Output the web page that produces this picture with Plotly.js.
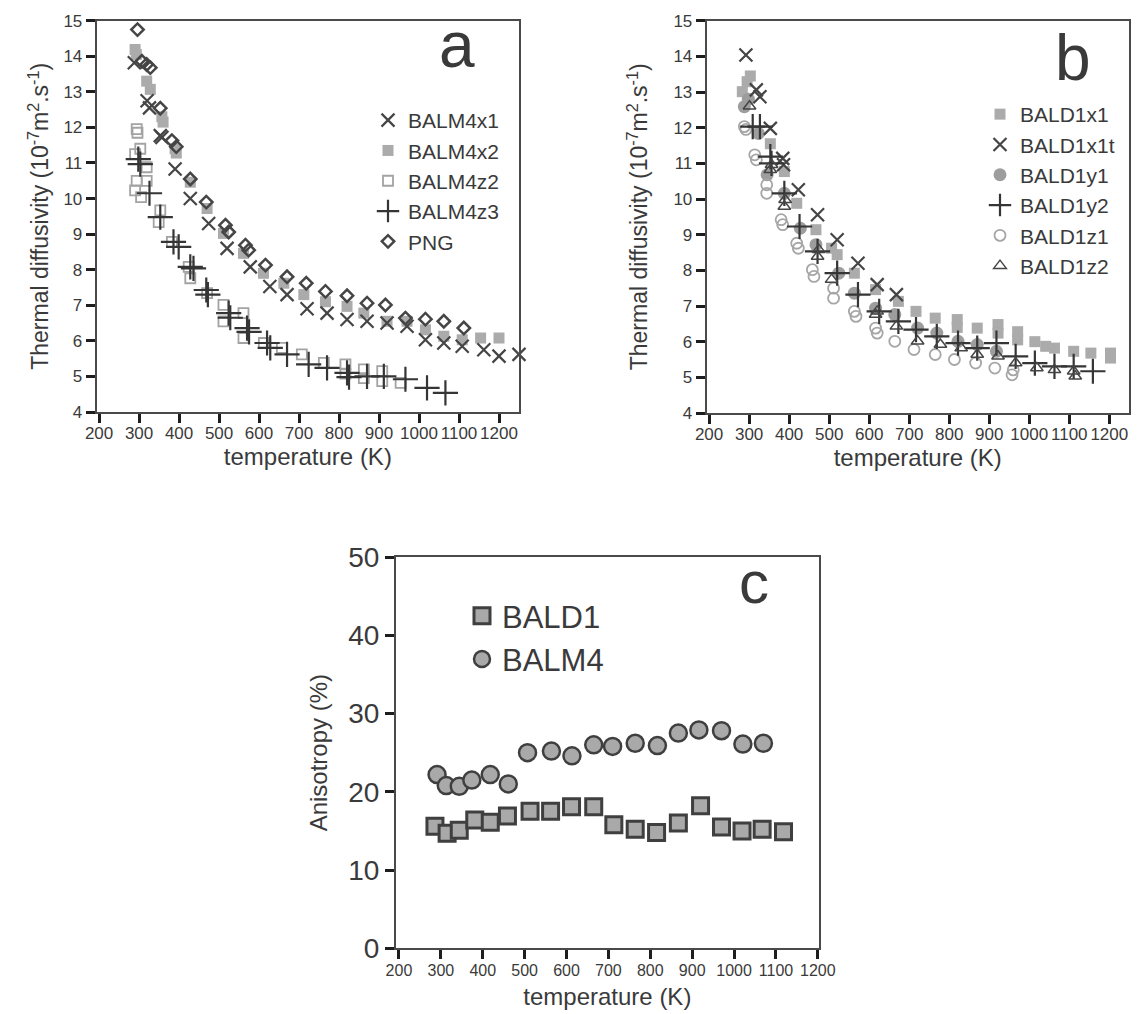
<!DOCTYPE html>
<html><head><meta charset="utf-8">
<script src="https://cdn.plot.ly/plotly-3.0.1.min.js"></script>
<style>html,body{margin:0;padding:0;background:#fff}#chart{width:1139px;height:1014px}</style>
</head><body><div id="chart"></div>
<script>
// ---------- Panel a (BALM4 + PNG) ----------
const balm4x1_T = [288, 320, 326, 353, 357, 390, 428, 474, 520, 578, 627, 670, 720, 770, 820, 870, 920, 970, 1016, 1062, 1108, 1162, 1200, 1250];
const balm4x1_D = [13.82, 12.75, 12.55, 11.77, 11.72, 10.83, 10.0, 9.3, 8.6, 8.08, 7.53, 7.3, 6.9, 6.78, 6.6, 6.55, 6.5, 6.41, 6.03, 5.94, 5.85, 5.75, 5.57, 5.62];
const balm4x2_T = [290, 293, 319, 328, 357, 360, 390, 393, 428, 470, 511, 561, 611, 662, 712, 766, 820, 862, 920, 970, 1016, 1062, 1108, 1154, 1200];
const balm4x2_D = [14.19, 14.05, 13.3, 13.07, 12.3, 12.15, 11.4, 11.28, 10.46, 9.72, 9.02, 8.46, 7.9, 7.62, 7.3, 7.1, 6.97, 6.78, 6.55, 6.55, 6.31, 6.13, 6.03, 6.08, 6.08];
const balm4z2_T = [294, 296, 303, 290, 319, 294, 319, 290, 305, 353, 349, 382, 424, 428, 470, 511, 511, 561, 561, 612, 657, 707, 762, 816, 816, 862, 862, 908, 908, 954];
const balm4z2_D = [11.95, 11.85, 11.4, 11.25, 10.88, 10.5, 10.5, 10.23, 10.04, 9.67, 9.34, 8.78, 8.08, 7.76, 7.34, 7.01, 6.55, 6.78, 6.08, 5.94, 5.8, 5.62, 5.38, 5.34, 5.08, 5.2, 4.95, 5.15, 4.87, 4.82];
const balm4z3_T = [298, 303, 326, 353, 386, 399, 428, 436, 468, 472, 524, 528, 570, 575, 620, 628, 670, 724, 770, 820, 825, 870, 912, 966, 1020, 1066];
const balm4z3_D = [11.11, 10.97, 10.15, 9.48, 8.78, 8.64, 8.08, 8.04, 7.43, 7.3, 6.78, 6.65, 6.36, 6.25, 5.94, 5.8, 5.62, 5.34, 5.24, 5.1, 4.98, 5.0, 5.0, 4.92, 4.68, 4.54];
const png_T = [296, 296, 307, 319, 328, 353, 382, 393, 428, 468, 516, 524, 566, 574, 616, 670, 718, 766, 820, 870, 916, 966, 1016, 1062, 1112];
const png_D = [15.03, 14.75, 13.86, 13.77, 13.68, 12.54, 11.63, 11.46, 10.55, 9.9, 9.25, 9.06, 8.69, 8.55, 8.13, 7.8, 7.62, 7.39, 7.27, 7.06, 7.01, 6.64, 6.61, 6.55, 6.36];

// ---------- Panel b (BALD1) ----------
const bald1x1_T = [283, 295, 303, 353, 388, 419, 467, 506, 520, 563, 616, 673, 717, 765, 820, 820, 870, 922, 922, 971, 971, 1014, 1041, 1063, 1111, 1154, 1203, 1203];
const bald1x1_D = [13.01, 13.29, 13.45, 11.55, 10.77, 9.88, 9.14, 8.62, 8.44, 7.92, 7.46, 7.13, 6.85, 6.66, 6.62, 6.4, 6.38, 6.48, 6.24, 6.28, 6.05, 6.0, 5.87, 5.82, 5.73, 5.68, 5.54, 5.68];
const bald1x1t_T = [292, 318, 327, 353, 384, 386, 423, 471, 520, 572, 620, 668];
const bald1x1t_D = [14.04, 13.06, 12.87, 11.98, 11.14, 10.96, 10.26, 9.56, 8.86, 8.2, 7.6, 7.32];
const bald1y1_T = [288, 298, 323, 345, 388, 428, 467, 524, 563, 616, 664, 721, 769, 822, 870, 918];
const bald1y1_D = [12.59, 12.8, 11.84, 10.68, 10.16, 9.18, 8.72, 7.92, 7.36, 6.94, 6.76, 6.38, 6.24, 6.01, 5.92, 5.73];
const bald1y2_T = [309, 327, 353, 356, 388, 426, 471, 520, 572, 625, 673, 717, 769, 822, 870, 918, 966, 1014, 1063, 1111, 1159];
const bald1y2_D = [12.03, 12.03, 11.19, 11.0, 10.16, 9.23, 8.53, 7.92, 7.32, 6.85, 6.57, 6.34, 6.15, 5.96, 5.82, 5.96, 5.59, 5.4, 5.31, 5.31, 5.17];
const bald1z1_T = [288, 292, 314, 318, 344, 344, 380, 384, 419, 423, 458, 462, 511, 511, 563, 567, 616, 620, 664, 712, 765, 813, 866, 914, 957, 960];
const bald1z1_D = [12.03, 11.95, 11.24, 11.1, 10.4, 10.16, 9.42, 9.28, 8.76, 8.62, 8.02, 7.83, 7.5, 7.22, 6.85, 6.71, 6.38, 6.24, 6.01, 5.78, 5.64, 5.5, 5.4, 5.26, 5.07, 5.21];
const bald1z2_T = [301, 353, 356, 388, 390, 471, 474, 506, 616, 620, 668, 721, 778, 830, 870, 922, 966, 1019, 1063, 1111, 1115];
const bald1z2_D = [12.6, 10.82, 10.96, 9.79, 9.98, 8.39, 8.58, 7.74, 6.76, 6.85, 6.43, 6.01, 5.92, 5.82, 5.64, 5.59, 5.4, 5.26, 5.21, 5.17, 5.03];

// ---------- Panel c (anisotropy) ----------
const aniso_bald1_T = [286, 315, 344, 381, 418, 459, 513, 562, 612, 665, 713, 764, 815, 867, 920, 970, 1019, 1067, 1118];
const aniso_bald1_A = [15.6, 14.7, 15.1, 16.4, 16.1, 16.9, 17.5, 17.5, 18.1, 18.1, 15.8, 15.2, 14.8, 16.0, 18.2, 15.5, 15.0, 15.2, 14.9];
const aniso_balm4_T = [291, 313, 344, 374, 418, 461, 507, 564, 613, 665, 710, 764, 817, 867, 916, 970, 1021, 1070];
const aniso_balm4_A = [22.2, 20.8, 20.7, 21.5, 22.2, 21.0, 25.0, 25.2, 24.6, 26.0, 25.8, 26.2, 25.9, 27.5, 27.9, 27.8, 26.1, 26.2];

const FONT = '"Liberation Sans", Arial, Helvetica, sans-serif';
const TXT = '#3a3a3a';
const DARK = '#454545';
const LIGHT = '#ababab';

function pt(name, x, y, xa, ya, leg, rank, symbol, size, color, lineColor, lineWidth) {
  return {
    type: 'scatter', mode: 'markers', name: name, x: x, y: y,
    xaxis: xa, yaxis: ya, legend: leg, legendrank: rank, cliponaxis: false,
    marker: { symbol: symbol, size: size, color: color, line: { color: lineColor, width: lineWidth } }
  };
}

const traces = [
  // panel a (gray first so dark markers sit on top)
  pt('BALM4x2', balm4x2_T, balm4x2_D, 'x', 'y', 'legend', 2, 'square', 11, LIGHT, LIGHT, 0),
  pt('BALM4z2', balm4z2_T, balm4z2_D, 'x', 'y', 'legend', 3, 'square-open', 10, '#a3a3a3', '#a3a3a3', 1.8),
  pt('BALM4x1', balm4x1_T, balm4x1_D, 'x', 'y', 'legend', 1, 'x-thin-open', 13, DARK, DARK, 2.2),
  pt('BALM4z3', balm4z3_T, balm4z3_D, 'x', 'y', 'legend', 4, 'cross-thin-open', 18, '#353535', '#353535', 2.2),
  pt('PNG', png_T, png_D, 'x', 'y', 'legend', 5, 'diamond-open', 9.5, DARK, DARK, 2.5),
  // panel b
  pt('BALD1x1', bald1x1_T, bald1x1_D, 'x2', 'y2', 'legend2', 1, 'square', 11, LIGHT, LIGHT, 0),
  pt('BALD1y1', bald1y1_T, bald1y1_D, 'x2', 'y2', 'legend2', 3, 'circle', 13, '#9d9d9d', '#9d9d9d', 0),
  pt('BALD1z1', bald1z1_T, bald1z1_D, 'x2', 'y2', 'legend2', 5, 'circle-open', 11, '#a6a6a6', '#a6a6a6', 1.8),
  pt('BALD1x1t', bald1x1t_T, bald1x1t_D, 'x2', 'y2', 'legend2', 2, 'x-thin-open', 13, DARK, DARK, 2.2),
  pt('BALD1y2', bald1y2_T, bald1y2_D, 'x2', 'y2', 'legend2', 4, 'cross-thin-open', 18, '#353535', '#353535', 2.2),
  pt('BALD1z2', bald1z2_T, bald1z2_D, 'x2', 'y2', 'legend2', 6, 'triangle-up-open', 11, DARK, DARK, 1.5),
  // panel c
  pt('BALD1', aniso_bald1_T, aniso_bald1_A, 'x3', 'y3', 'legend3', 1, 'square', 16, '#a9a9a9', '#3f3f3f', 3),
  pt('BALM4', aniso_balm4_T, aniso_balm4_A, 'x3', 'y3', 'legend3', 2, 'circle', 17, '#a9a9a9', '#3f3f3f', 2.5)
];

const W = 1139, H = 1014;
function xd(a, b) { return [a / W, b / W]; }
function yd(top, bottom) { return [1 - bottom / H, 1 - top / H]; }

function axisBase(domain, range, dtick, anchor, tickSize, title, titleSize, standoff, labelOff) {
  return {
    domain: domain, range: range, anchor: anchor, dtick: dtick, tick0: 0,
    ticks: 'outside', ticklen: 9, tickwidth: 3, tickcolor: '#1e1e1e',
    ticklabelstandoff: labelOff,
    showline: true, linecolor: '#4a4a4a', linewidth: 2, mirror: true,
    showgrid: false, zeroline: false, fixedrange: true,
    tickfont: { family: FONT, size: tickSize, color: TXT },
    title: { text: title, font: { family: FONT, size: titleSize, color: TXT }, standoff: standoff }
  };
}

const yTitle = 'Thermal diffusivity (10<sup>-7</sup>m<sup>2</sup>.s<sup>-1</sup>)';

const layout = {
  width: W, height: H,
  margin: { l: 0, r: 0, t: 0, b: 0 },
  paper_bgcolor: '#ffffff', plot_bgcolor: '#ffffff',
  font: { family: FONT, color: TXT },
  showlegend: true, hovermode: false,
  xaxis: axisBase(xd(96.7, 519), [194, 1250], 100, 'y', 17, 'temperature (K)', 24, 0, -4),
  yaxis: axisBase(yd(20.7, 412), [4, 15], 1, 'x', 17, yTitle, 23, 8, 0),
  xaxis2: axisBase(xd(706.7, 1128.7), [194, 1248.5], 100, 'y2', 17, 'temperature (K)', 24, 0, -4),
  yaxis2: axisBase(yd(20.7, 413), [4, 15], 1, 'x2', 17, yTitle, 23, 19, 0),
  xaxis3: axisBase(xd(396, 818.7), [193, 1202], 100, 'y3', 16, 'temperature (K)', 24, 11, -3),
  yaxis3: axisBase(yd(557, 948.3), [0, 50], 10, 'x3', 28, 'Anisotropy (%)', 24, 14, 0),
  legend: { x: 368 / W, xanchor: 'left', y: 1 - 100 / H, yanchor: 'top', bgcolor: 'rgba(0,0,0,0)', borderwidth: 0,
            font: { family: FONT, size: 21, color: TXT }, tracegroupgap: 0, traceorder: 'normal', itemsizing: 'trace' },
  legend2: { x: 980 / W, xanchor: 'left', y: 1 - 94 / H, yanchor: 'top', bgcolor: 'rgba(0,0,0,0)', borderwidth: 0,
            font: { family: FONT, size: 21, color: TXT }, tracegroupgap: 0, traceorder: 'normal', itemsizing: 'trace' },
  legend3: { x: 462 / W, xanchor: 'left', y: 1 - 589 / H, yanchor: 'top', bgcolor: 'rgba(0,0,0,0)', borderwidth: 0,
            font: { family: FONT, size: 31, color: TXT }, tracegroupgap: 0, traceorder: 'normal', itemsizing: 'trace' },
  annotations: [
    { text: 'a', xref: 'paper', yref: 'paper', x: 457 / W, y: 1 - 45 / H, xanchor: 'center', yanchor: 'middle', showarrow: false,
      font: { family: FONT, size: 64, color: '#3a3a3a' } },
    { text: 'b', xref: 'paper', yref: 'paper', x: 1073 / W, y: 1 - 58 / H, xanchor: 'center', yanchor: 'middle', showarrow: false,
      font: { family: FONT, size: 64, color: '#3a3a3a' } },
    { text: 'c', xref: 'paper', yref: 'paper', x: 754 / W, y: 1 - 582 / H, xanchor: 'center', yanchor: 'middle', showarrow: false,
      font: { family: FONT, size: 60, color: '#3a3a3a' } }
  ]
};

Plotly.newPlot('chart', traces, layout, { displayModeBar: false, staticPlot: true });
</script></body></html>
